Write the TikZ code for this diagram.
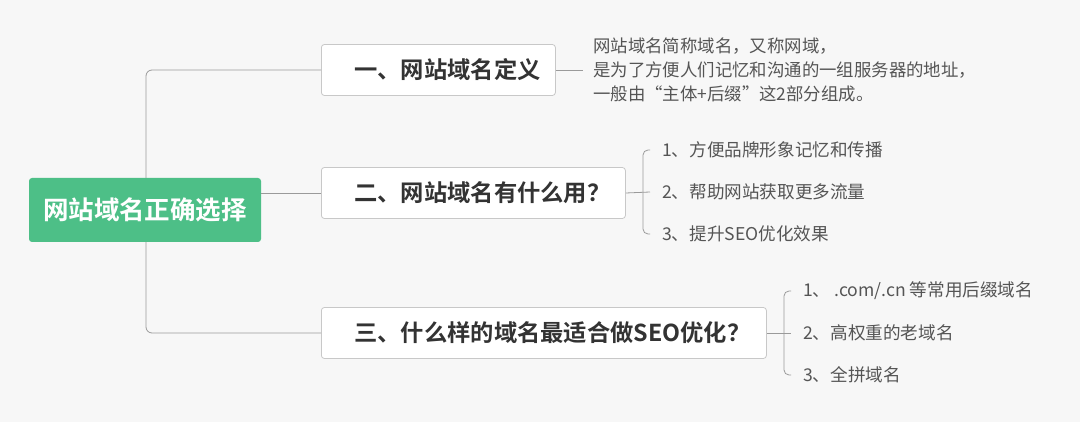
\documentclass[tikz,border=0pt]{standalone}
\usepackage{fontspec}
\setmainfont{Noto Sans CJK SC}[BoldFont={Noto Sans CJK SC Bold}]
\definecolor{bg}{HTML}{F7F7F7}
\definecolor{rootgreen}{HTML}{4DBF87}
\definecolor{linegray}{HTML}{9A9A9A}
\definecolor{boxborder}{HTML}{C8C8C8}
\definecolor{txtdark}{HTML}{333333}
\definecolor{txtgray}{HTML}{555555}
\begin{document}
\begin{tikzpicture}[x=1pt,y=-1pt,
  rootbox/.style={fill=rootgreen, rounded corners=3pt, minimum width=232pt, minimum height=64pt, inner sep=0pt, text=white, font=\fontsize{25.5}{28}\selectfont\bfseries},
  topicbox/.style={draw=boxborder, line width=0.8pt, fill=white, rounded corners=3pt, minimum height=51pt, inner sep=0pt, anchor=west},
  topictext/.style={anchor=west, inner sep=0pt, text=txtdark, font=\fontsize{23.3}{27}\selectfont\bfseries},
  itemtext/.style={anchor=west, inner xsep=12pt, inner ysep=0pt, text=txtgray, font=\fontsize{17.6}{21}\selectfont},
  conn/.style={draw=linegray, line width=0.8pt},
]
\fill[bg] (0,0) rectangle (1080,422);
\useasboundingbox (0,0) rectangle (1080,422);

% topic boxes
\node[topicbox, minimum width=234pt] (b1) at (321,70) {};
\node[topictext] (t1) at (354,70) {一、网站域名定义};
\node[topicbox, minimum width=304pt] (b2) at (321,193) {};
\node[topictext] (t2) at (354,193) {二、网站域名有什么用？};
\node[topicbox, minimum width=445pt] (b3) at (321,333) {};
\node[topictext] (t3) at (354,333) {三、什么样的域名最适合做SEO优化？};

% trunk connectors (behind root)
\draw[conn, rounded corners=6pt] (b1.west) -- (146,70) -- (146,333) -- (b3.west);

% root
\node[rootbox] (root) at (145,210) {网站域名正确选择};
\draw[conn] (root.east |- b2.west) -- (b2.west);

% description of topic 1
\node[anchor=west, inner xsep=10pt, inner ysep=0pt, text=txtgray, align=left,
  font=\fontsize{17.4}{24}\selectfont] (d1) at (583,70)
  {网站域名简称域名，又称网域，\\是为了方便人们记忆和沟通的一组服务器的地址，\\一般由“主体+后缀”这2部分组成。};
\draw[conn] (b1.east) -- (d1.west);

% items of topic 2
\node[itemtext] (i21) at (650,150) {1、方便品牌形象记忆和传播};
\node[itemtext] (i22) at (650,192) {2、帮助网站获取更多流量};
\node[itemtext] (i23) at (650,234) {3、提升SEO优化效果};
\draw[conn] (b2.east) -- (i22.west);
\draw[conn, rounded corners=5pt] (i21.west) -- (643,150) -- (643,234) -- (i23.west);

% items of topic 3
\node[itemtext] (i31) at (791,291) {1、 .com/.cn 等常用后缀域名};
\node[itemtext] (i32) at (791,333) {2、高权重的老域名};
\node[itemtext] (i33) at (791,375) {3、全拼域名};
\draw[conn] (b3.east) -- (i32.west);
\draw[conn, rounded corners=5pt] (i31.west) -- (784,291) -- (784,375) -- (i33.west);
\end{tikzpicture}
\end{document}
